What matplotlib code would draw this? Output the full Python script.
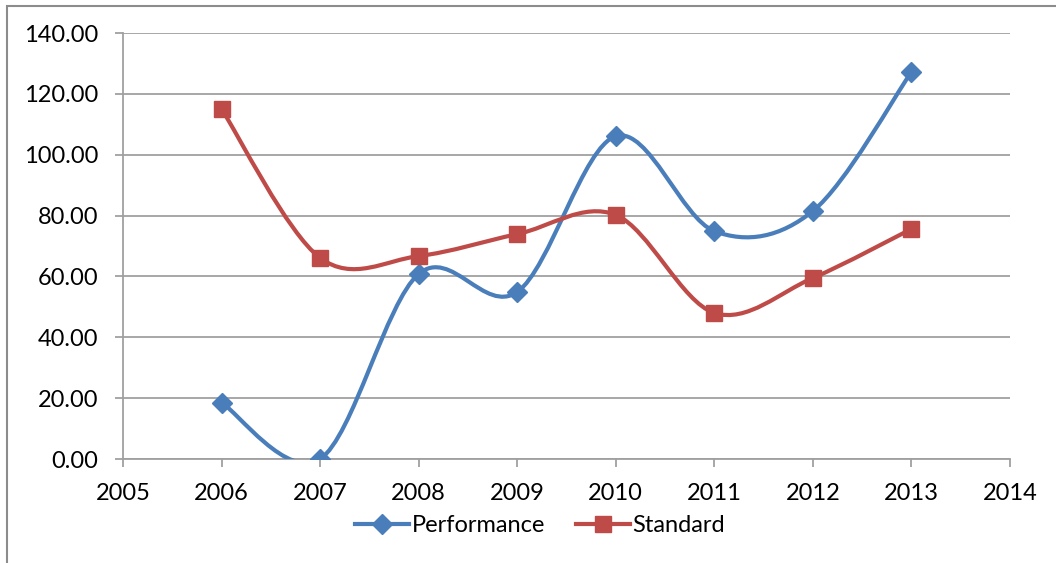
import numpy as np
import matplotlib
matplotlib.use("Agg")
import matplotlib.pyplot as plt
from matplotlib.path import Path
from matplotlib.patches import PathPatch, Rectangle
from matplotlib.lines import Line2D

years = [2006, 2007, 2008, 2009, 2010, 2011, 2012, 2013]
performance = [18.5, 0.0, 60.8, 54.9, 106.1, 74.9, 81.5, 127.2]
standard = [115.0, 66.1, 66.7, 73.9, 80.2, 48.0, 59.5, 75.6]

blue = "#4A7EBB"
red = "#BE4B48"
grid = "#A0A0A0"

plt.rcParams["font.family"] = ["Lato", "DejaVu Sans"]


def smooth_path(x, y):
    # Catmull-Rom style bezier, same kind of smoothing a spreadsheet uses
    x = np.asarray(x, float)
    y = np.asarray(y, float)
    pts = np.column_stack([x, y])
    n = len(pts)
    verts = [pts[0]]
    codes = [Path.MOVETO]
    for i in range(n - 1):
        p0 = pts[i - 1] if i > 0 else pts[i]
        p1 = pts[i]
        p2 = pts[i + 1]
        p3 = pts[i + 2] if i + 2 < n else pts[i + 1]
        c1 = p1 + (p2 - p0) / 6.0
        c2 = p2 - (p3 - p1) / 6.0
        verts += [c1, c2, p2]
        codes += [Path.CURVE4] * 3
    return Path(verts, codes)


fig = plt.figure(figsize=(10.56, 5.63), dpi=100)
ax = fig.add_axes([123 / 1056, 1 - 459 / 563, (1010 - 123) / 1056, (459 - 33) / 563])

# outer chart frame (left and top edges visible)
fig.patches.append(Rectangle((7 / 1056, -0.1), 1.2, (560 - 3) / 563 + 0.1,
                             transform=fig.transFigure, fill=False,
                             edgecolor="#8C8C8C", linewidth=1.5))

for vals, col, mk, ms in [(performance, blue, "D", 10), (standard, red, "s", 12)]:
    ax.add_patch(PathPatch(smooth_path(years, vals), fill=False,
                           edgecolor=col, linewidth=3, capstyle="round",
                           joinstyle="round", zorder=3))
    ax.plot(years, vals, linestyle="none", marker=mk, markersize=ms,
            color=col, markeredgecolor=col, zorder=4)

ax.set_xlim(2005, 2014)
ax.set_ylim(0, 140)
ax.set_xticks(range(2005, 2015))
ax.set_yticks(np.arange(0, 141, 20))
ax.set_yticklabels([f"{v:.2f}" for v in np.arange(0, 141, 20)])

ax.grid(axis="y", color=grid, linewidth=1.3)
ax.set_axisbelow(True)
for s in ["top", "right"]:
    ax.spines[s].set_visible(False)
for s in ["left", "bottom"]:
    ax.spines[s].set_color(grid)
    ax.spines[s].set_linewidth(1.3)
ax.tick_params(axis="both", direction="out", length=6, width=1.3,
               color=grid, labelsize=17)
ax.tick_params(axis="x", pad=11)
ax.tick_params(axis="y", pad=12)

handles = [
    Line2D([], [], color=blue, linewidth=3, marker="D", markersize=10),
    Line2D([], [], color=red, linewidth=3, marker="s", markersize=12),
]
fig.legend(handles, ["Performance", "Standard"], loc="center",
           bbox_to_anchor=(540 / 1056, 1 - 526 / 563), ncol=2, frameon=False,
           fontsize=17, handlelength=2.3, handletextpad=0.1, columnspacing=1.3)

fig.savefig("out.png", dpi=100)
